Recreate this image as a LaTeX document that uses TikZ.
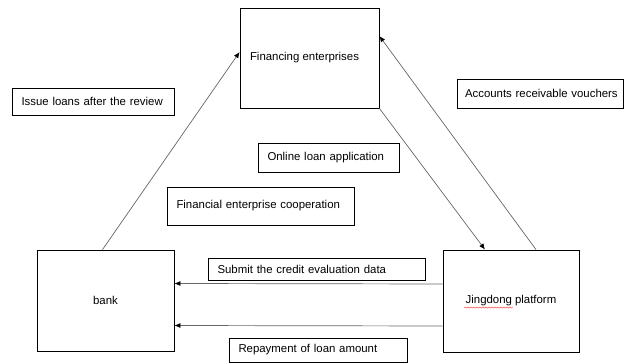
\documentclass[tikz,border=0pt]{standalone}
\usepackage{fontspec}
\setmainfont{Liberation Sans}
\usetikzlibrary{arrows.meta,decorations.pathmorphing}
\begin{document}
\begin{tikzpicture}[x=1pt,y=-1pt,
  txt/.style={font=\fontsize{11.4}{13}\selectfont},
  box/.style={txt,draw=black,line width=0.8pt,rectangle,inner sep=0pt},
  lbl/.style={txt,draw=black,line width=0.8pt,rectangle,inner xsep=9.5pt,inner ysep=0pt,align=left,text width=#1-19pt},
  arr/.style={draw=black!60,line width=0.7pt,-{Latex[length=6pt,width=5pt,color=black]}}]
\useasboundingbox (0,0) rectangle (624,363);
% main boxes
\node[box,minimum width=139pt,minimum height=100pt] (fin) at (309.5,58) {};
\node[txt] (fint) at (304.5,58) {Financing enterprises};
\node[box,minimum width=137pt,minimum height=101pt] (bank) at (105.5,300.5) {bank};
\node[box,minimum width=136pt,minimum height=102pt] (jd) at (511,301) {Jingdong platform};
% label boxes
\node[lbl=162pt,minimum height=27pt] (issue) at (93,101.5) {Issue loans after the review};
\node[lbl=166pt,inner xsep=4pt,text width=158pt,minimum height=29pt] (acc) at (540,93.5) {\hspace*{4pt}Accounts receivable vouchers};
\node[lbl=141pt,minimum height=29pt] (online) at (328.5,157.5) {Online loan application};
\node[lbl=187pt,minimum height=38pt] (coop) at (260.5,206) {Financial enterprise cooperation};
\node[lbl=217pt,minimum height=22pt] (submit) at (316.5,269) {Submit the credit evaluation data};
\node[lbl=178pt,minimum height=24pt] (repay) at (318,350) {Repayment of loan amount};
% connectors
\draw[arr] ([xshift=-3pt]bank.north) -- ([yshift=6pt]fin.west);
\draw[arr] (fin.south east) -- ([xshift=-26pt]jd.north);
\draw[arr] ([xshift=25pt]jd.north) -- ([yshift=22pt]fin.east);
\draw[arr] ([yshift=17pt]jd.west) -- ([yshift=17pt]bank.east);
\draw[arr] ([yshift=-25pt]jd.west) -- ([yshift=-25pt]bank.east);
% spell-check underline
\coordinate (u1) at (464,307.5);
\coordinate (u2) at (513,307.5);
\draw[red!80,line width=0.4pt,decorate,decoration={snake,amplitude=0.6pt,segment length=3pt}] (u1) -- (u2);
\end{tikzpicture}
\end{document}
